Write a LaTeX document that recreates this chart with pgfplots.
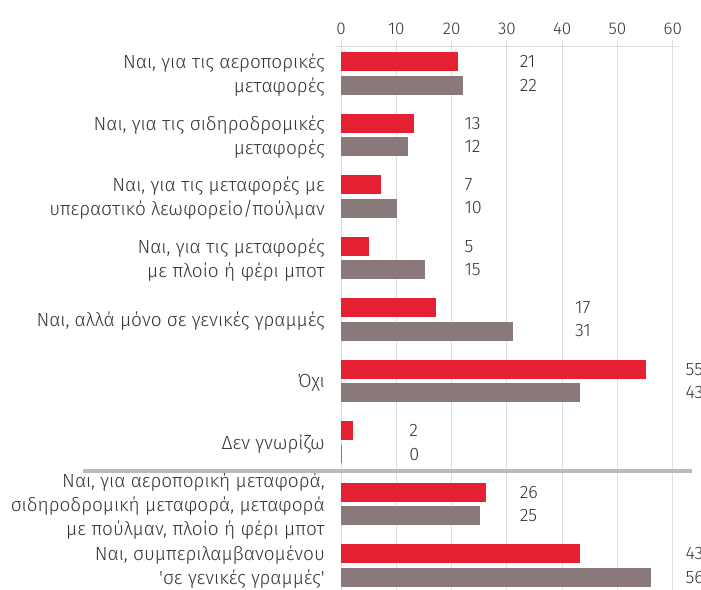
\documentclass[border=0pt]{standalone}
\usepackage{fontspec}
\setmainfont{Fira Sans Light}
\usepackage{pgfplots}
\pgfplotsset{compat=1.18}

\definecolor{barred}{HTML}{E42032}
\definecolor{bargray}{HTML}{8A797B}
\definecolor{gridgray}{HTML}{DEDEDE}
\definecolor{sepgray}{HTML}{BBBBBB}
\definecolor{txt}{HTML}{333333}

\begin{document}
\begin{tikzpicture}
\path[use as bounding box] (0,0) rectangle (701bp,-590bp);
\begin{axis}[
  at={(335bp,-46bp)}, anchor=north west,
  scale only axis,
  width=343.8bp, height=544bp,
  xmin=-1.1, xmax=61.1,
  ymin=46, ymax=590,
  y dir=reverse,
  clip=false,
  axis x line*=top,
  axis y line*=left,
  x axis line style={draw=gridgray, line width=1bp, -},
  y axis line style={draw=none},
  xtick={0,10,...,60},
  xmajorgrids=true,
  grid style={draw=gridgray, line width=1bp},
  major x tick style={draw=gridgray, line width=1bp},
  tick align=outside,
  major tick length=6bp,
  major y tick style={draw=none},
  /pgf/number format/assume math mode=true,
  xticklabel style={font=\fontsize{17bp}{20bp}\selectfont, text=txt, yshift=2bp},
  ytick={75.35,136.85,198.35,259.85,321.35,382.85,444.35,505.85,567.35},
  yticklabels={
    {Ναι, για τις αεροπορικές\\μεταφορές},
    {Ναι, για τις σιδηροδρομικές\\μεταφορές},
    {Ναι, για τις μεταφορές με\\υπεραστικό λεωφορείο/πούλμαν},
    {Ναι, για τις μεταφορές\\με πλοίο ή φέρι μποτ},
    {Ναι, αλλά μόνο σε γενικές γραμμές},
    {Όχι},
    {Δεν γνωρίζω},
    {Ναι, για αεροπορική μεταφορά,\\σιδηροδρομική μεταφορά, μεταφορά\\με πούλμαν, πλοίο ή φέρι μποτ},
    {Ναι, συμπεριλαμβανομένου\\\textquotesingle σε γενικές γραμμές\textquotesingle}},
  yticklabel style={font=\fontsize{19bp}{24bp}\selectfont, text=txt, align=right, anchor=east, inner sep=0pt, xshift=-4bp},
  xbar, bar width=18, bar shift=0pt,
]
% red series
\addplot[fill=barred, draw=barred, line width=0.5bp] coordinates {
  (21,61.7) (13,123.2) (7,184.7) (5,246.2) (17,307.7)
  (55,369.2) (2,430.7) (26,492.2) (43,553.7)
};
% gray series
\addplot[fill=bargray, draw=bargray, line width=0.5bp] coordinates {
  (22,85.0) (12,146.5) (10,208.0) (15,269.5) (31,331.0)
  (43,392.5) (0,454.0) (25,515.5) (56,577.0)
};
% value labels
\addplot[draw=none, mark=none, nodes near coords, point meta=explicit symbolic,
  every node near coord/.style={anchor=west, inner sep=0pt, text=txt,
    font=\fontsize{18bp}{20bp}\selectfont}] coordinates {
  (32.3,61.7)[21] (32.3,85.0)[22]
  (22.3,123.2)[13] (22.3,146.5)[12]
  (22.3,184.7)[7] (22.3,208.0)[10]
  (22.3,246.2)[5] (22.3,269.5)[15]
  (42.3,307.7)[17] (42.3,331.0)[31]
  (62.3,369.2)[55] (62.3,392.5)[43]
  (12.3,430.7)[2] (12.3,454.0)[0]
  (32.3,492.2)[26] (32.3,515.5)[25]
  (62.3,553.7)[43] (62.3,577.0)[56]
};
\draw[sepgray, line width=3.5bp] (axis cs:-46.7,471) -- (axis cs:63.5,471);
\end{axis}
\end{tikzpicture}
\end{document}
